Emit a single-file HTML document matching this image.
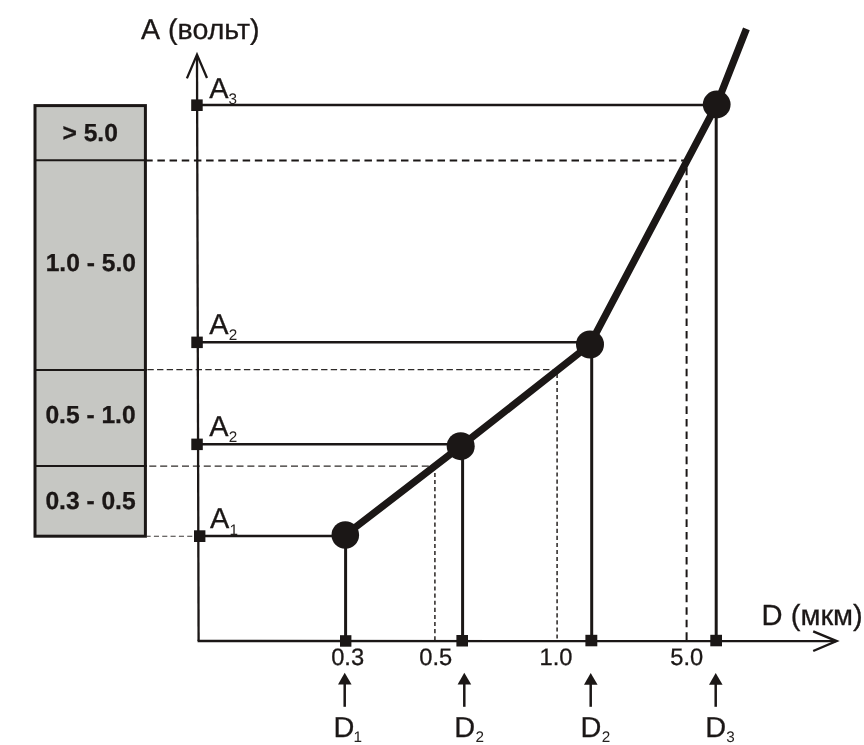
<!DOCTYPE html>
<html lang="ru">
<head>
<meta charset="utf-8">
<title>A(D) calibration curve</title>
<style>
  html, body { margin: 0; padding: 0; background: #ffffff; }
  body { width: 864px; height: 745px; overflow: hidden; }
  svg { display: block; will-change: transform; }
  #labels, #rangebox text { text-rendering: geometricPrecision; }
  text { font-family: "Liberation Sans", sans-serif; fill: #1b1716; stroke: #1b1716; stroke-width: 0.3px; }
  .sub { stroke-width: 0 !important; }
  .lbl { font-size: 28.9px; }
  .sub { font-size: 15.3px; fill: #262220; }
  .tick { font-size: 23.7px; }
  .box { font-size: 24.6px; font-weight: bold; }
</style>
</head>
<body>
<svg width="864" height="745" viewBox="0 0 864 745">

  <!-- gray range box -->
  <g id="rangebox">
    <rect x="35" y="105.6" width="110.4" height="430.6" fill="#c6c7c3" stroke="#1b1716" stroke-width="3"/>
    <line x1="34" y1="160.3" x2="147" y2="160.3" stroke="#1b1716" stroke-width="2"/>
    <line x1="34" y1="370" x2="147" y2="370" stroke="#1b1716" stroke-width="2"/>
    <line x1="34" y1="466" x2="147" y2="466" stroke="#1b1716" stroke-width="2"/>
    <text class="box" x="90.2" y="140.8" text-anchor="middle">&gt; 5.0</text>
    <text class="box" x="90.8" y="271.2" text-anchor="middle">1.0 - 5.0</text>
    <text class="box" x="90.5" y="423.2" text-anchor="middle">0.5 - 1.0</text>
    <text class="box" x="90.5" y="508.6" text-anchor="middle">0.3 - 0.5</text>
  </g>

  <!-- dashed guides -->
  <g id="guides" fill="none">
    <!-- thick dashed 5.0 -->
    <path d="M147 160.5 H686.6" stroke="#1b1716" stroke-width="2" stroke-dasharray="7.5 4.68" stroke-dashoffset="1.8"/>
    <path d="M686.6 160.5 V640.5" stroke="#1b1716" stroke-width="2" stroke-dasharray="7.6 4.956" stroke-dashoffset="5.3"/>
    <!-- thin dashed 1.0 -->
    <path d="M147.4 369.7 H557" stroke="#2f2b29" stroke-width="1.25" stroke-dasharray="6.35 3.3"/>
    <path d="M557.1 370 V640" stroke="#35312f" stroke-width="1.6" stroke-dasharray="4.1 2.94" stroke-dashoffset="3.1"/>
    <!-- thin dashed 0.5 -->
    <path d="M149.26 466 H435" stroke="#2f2b29" stroke-width="1.25" stroke-dasharray="7.05 3.85"/>
    <path d="M434.9 465.8 V640" stroke="#35312f" stroke-width="1.6" stroke-dasharray="4.1 3.0"/>
    <!-- thin dashed A1 -->
    <path d="M147 536.2 H194.5" stroke="#3d3937" stroke-width="1.15" stroke-dasharray="5.1 3.23" stroke-dashoffset="1.44"/>
  </g>

  <!-- axes -->
  <g id="axes" stroke="#1b1716" fill="none">
    <line x1="197" y1="56" x2="198.6" y2="641" stroke-width="2.3"/>
    <polyline points="186.9,78.4 197,54.6 207,78" stroke-width="2.3" stroke-linejoin="miter"/>
    <line x1="197.6" y1="641" x2="836" y2="641.1" stroke-width="2.3"/>
    <polyline points="813.2,631.4 836.6,641.1 813.2,651" stroke-width="2.4" stroke-linejoin="miter"/>
  </g>

  <!-- horizontal level lines -->
  <g id="levels" stroke="#1b1716" stroke-width="2.6">
    <line x1="197" y1="105" x2="716" y2="105"/>
    <line x1="197" y1="342.3" x2="590" y2="342.3"/>
    <line x1="197" y1="444.3" x2="461" y2="444.3"/>
    <line x1="199" y1="536" x2="345" y2="536"/>
  </g>

  <!-- vertical drop lines -->
  <g id="drops" stroke="#1b1716" stroke-width="3">
    <line x1="345.6" y1="535" x2="345.6" y2="641"/>
    <line x1="462.6" y1="446" x2="462.6" y2="641"/>
    <line x1="591.7" y1="344" x2="591.7" y2="641"/>
    <line x1="716.2" y1="104" x2="716.2" y2="641"/>
  </g>

  <!-- main curve -->
  <polyline points="345.3,535 460.8,446.2 590,344.5 716.7,104.5 746.4,28.9" fill="none" stroke="#1b1716" stroke-width="7.2" stroke-linejoin="round"/>

  <!-- nodes -->
  <g id="nodes" fill="#1b1716">
    <circle cx="345.3" cy="535" r="13.8"/>
    <circle cx="460.7" cy="446.2" r="14"/>
    <circle cx="590" cy="344.5" r="14"/>
    <circle cx="716.7" cy="104.5" r="13.9"/>
  </g>

  <!-- square markers -->
  <g id="markers" fill="#1b1716">
    <rect x="191.2" y="99.4" width="11.5" height="11.6"/>
    <rect x="191.3" y="336.6" width="11.5" height="11.5"/>
    <rect x="191.3" y="438.6" width="11.5" height="11.5"/>
    <rect x="194" y="530.3" width="11.4" height="11.7"/>
    <rect x="340" y="635.2" width="11.4" height="11.5"/>
    <rect x="456.4" y="635" width="11.6" height="11.5"/>
    <rect x="585.4" y="634.8" width="11.9" height="11.5"/>
    <rect x="710.3" y="634.8" width="11.7" height="11.5"/>
  </g>

  <!-- labels -->
  <g id="labels">
    <text class="lbl" x="141" y="38.8" style="font-size:28.6px">А (вольт)</text>
    <text class="lbl" x="761.6" y="625.4" style="font-size:29.1px">D (мкм)</text>

    <text class="lbl" x="209.3" y="98.2">A</text><text class="sub" x="228.6" y="103.7">3</text>
    <text class="lbl" x="209.3" y="333.9">A</text><text class="sub" x="228.8" y="339.6">2</text>
    <text class="lbl" x="209.3" y="435.7">A</text><text class="sub" x="228.8" y="441.5">2</text>
    <text class="lbl" x="210" y="528.3">A</text><text class="sub" x="229.6" y="535">1</text>

    <text class="tick" x="347.6" y="664.8" text-anchor="middle">0.3</text>
    <text class="tick" x="435.8" y="664.8" text-anchor="middle">0.5</text>
    <text class="tick" x="556" y="664.8" text-anchor="middle">1.0</text>
    <text class="tick" x="686.8" y="664.9" text-anchor="middle">5.0</text>

    <text class="lbl" x="333.4" y="736.6">D</text><text class="sub" x="353.6" y="742.2">1</text>
    <text class="lbl" x="454.3" y="736.6">D</text><text class="sub" x="475.6" y="742.2">2</text>
    <text class="lbl" x="580.6" y="736.6">D</text><text class="sub" x="601.8" y="742.2">2</text>
    <text class="lbl" x="705.3" y="736.6">D</text><text class="sub" x="726.3" y="742.2">3</text>
  </g>

  <!-- pointer arrows -->
  <g id="pointers" stroke="#1b1716" fill="#1b1716">
    <line x1="344.7" y1="682" x2="344.7" y2="706.8" stroke-width="2.5"/>
    <polygon points="344.7,672.7 338,684.5 351.6,684.5" stroke="none"/>
    <line x1="464.3" y1="682" x2="464.3" y2="706.8" stroke-width="2.5"/>
    <polygon points="464.3,672.7 457.6,684.5 471.2,684.5" stroke="none"/>
    <line x1="590.7" y1="682" x2="590.7" y2="706.8" stroke-width="2.5"/>
    <polygon points="590.7,673 584,684.8 597.6,684.8" stroke="none"/>
    <line x1="715.7" y1="682" x2="715.7" y2="706.8" stroke-width="2.5"/>
    <polygon points="715.7,673 709,684.8 722.6,684.8" stroke="none"/>
  </g>
</svg>
</body>
</html>
